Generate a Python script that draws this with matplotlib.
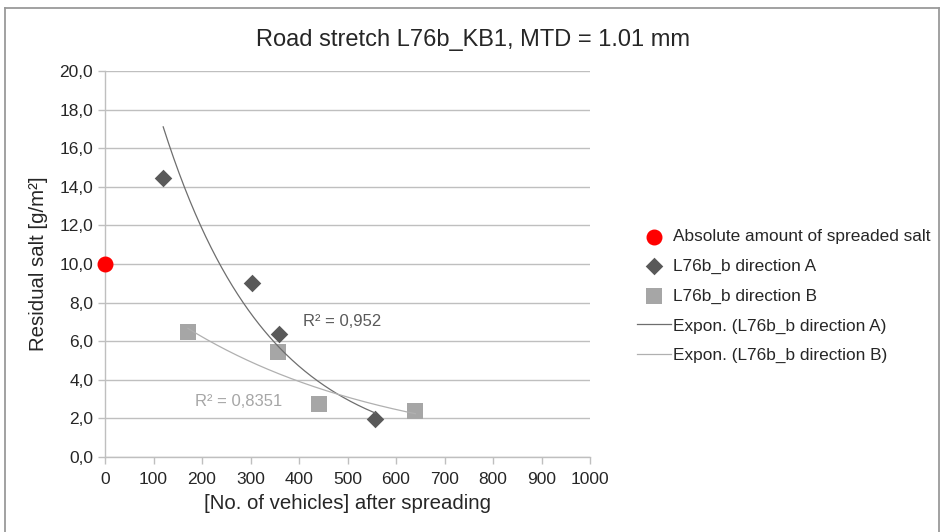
import numpy as np
import matplotlib
matplotlib.use('Agg')
import matplotlib.pyplot as plt
from matplotlib.lines import Line2D

plt.rcParams['font.family'] = ['Liberation Sans', 'DejaVu Sans']

# ── Data ──────────────────────────────────────────────────────────────
spread_x = [0]
spread_y = [10.0]

dir_a_x = [120, 303, 359, 557]
dir_a_y = [14.45, 9.0, 6.37, 1.97]

dir_b_x = [171, 356, 441, 640]
dir_b_y = [6.48, 5.44, 2.75, 2.38]

r2_a = 'R² = 0,952'
r2_b = 'R² = 0,8351'

DARK = '#595959'
LIGHT = '#a6a6a6'
TXT = '#262626'


def expon_fit(x, y):
    """Excel-style exponential trendline y = a*exp(b*x), fitted on log(y)."""
    b, ln_a = np.polyfit(np.asarray(x, float), np.log(y), 1)
    xs = np.linspace(min(x), max(x), 200)
    return xs, np.exp(ln_a) * np.exp(b * xs)


fig = plt.figure(figsize=(9.44, 5.32), dpi=100)
ax = fig.add_axes([105 / 944, 1 - 457 / 532, 485 / 944, 386 / 532])

# chart border (left, top, right; bottom runs off the image)
bx0, bx1, by0 = 4.5 / 944, 938.5 / 944, 1 - 7.5 / 532
for xs_, ys_ in [([bx0, bx0], [0, by0]), ([bx0, bx1], [by0, by0]),
                 ([bx1, bx1], [0, by0])]:
    fig.add_artist(Line2D(xs_, ys_, transform=fig.transFigure,
                          color='#9a9a9a', linewidth=1.3))

ax.yaxis.grid(True, color='#bfbfbf', linewidth=1.0)
ax.set_axisbelow(True)

xa, ya = expon_fit(dir_a_x, dir_a_y)
xb, yb = expon_fit(dir_b_x, dir_b_y)

ax.scatter(spread_x, spread_y, s=110, color='#ff0000', marker='o',
           zorder=4, clip_on=False, label='Absolute amount of spreaded salt')
ax.scatter(dir_a_x, dir_a_y, s=80, color=DARK, marker='D', zorder=3,
           linewidths=0, label='L76b_b direction A')
ax.scatter(dir_b_x, dir_b_y, s=140, color=LIGHT, marker='s', zorder=3,
           linewidths=0, label='L76b_b direction B')
ax.plot(xa, ya, color='#6e6e6e', linewidth=0.9, zorder=5,
        label='Expon. (L76b_b direction A)')
ax.plot(xb, yb, color='#b0b0b0', linewidth=0.9, zorder=5,
        label='Expon. (L76b_b direction B)')

ax.text(408, 7.0, r2_a, color=DARK, fontsize=12, va='center', ha='left')
ax.text(186, 2.85, r2_b, color=LIGHT, fontsize=12, va='center', ha='left')

ax.set_xlim(0, 1000)
ax.set_ylim(0, 20)
ax.set_xticks(np.arange(0, 1001, 100))
ax.set_yticks(np.arange(0, 20.1, 2))
ax.set_yticklabels([f'{v:.1f}'.replace('.', ',') for v in np.arange(0, 20.1, 2)])

for s in ['top', 'right']:
    ax.spines[s].set_visible(False)
for s in ['left', 'bottom']:
    ax.spines[s].set_color('#bfbfbf')
    ax.spines[s].set_linewidth(1.0)
ax.tick_params(axis='both', colors='#bfbfbf', labelcolor=TXT,
               labelsize=12.5, length=5, width=1.0)
ax.tick_params(axis='x', pad=6)

ax.set_xlabel('[No. of vehicles] after spreading', fontsize=14.7,
              color=TXT, labelpad=5)
ax.set_ylabel('Residual salt [g/m²]', fontsize=14.7, color=TXT,
              labelpad=8)

fig.text(473 / 944, 1 - 40 / 532, 'Road stretch L76b_KB1, MTD = 1.01 mm',
         ha='center', va='center', fontsize=17, color=TXT)

leg = fig.legend(loc='upper left', bbox_to_anchor=(637 / 944, 1 - 229 / 532),
                 frameon=False, fontsize=12.4, handlelength=2.0,
                 handletextpad=0.1, labelspacing=0.85, borderaxespad=0,
                 borderpad=0, scatterpoints=1)
for t in leg.get_texts():
    t.set_color(TXT)

fig.savefig('out.png', dpi=100, facecolor='white')
